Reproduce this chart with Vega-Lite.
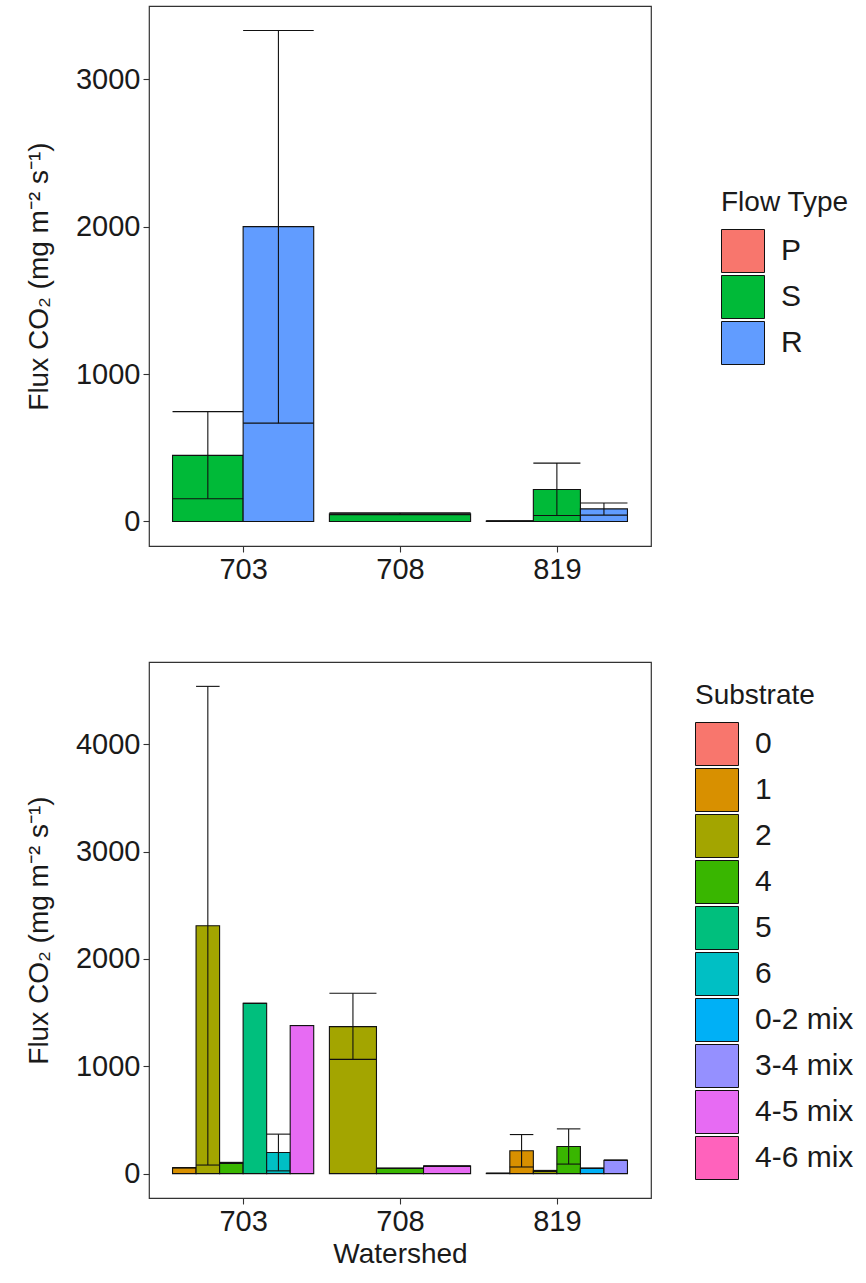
{
  "$schema": "https://vega.github.io/schema/vega-lite/v6.json",
  "padding": {"left": 24, "top": 5, "right": 0, "bottom": 0},
  "background": "white",
  "config": {
    "font": "Liberation Sans",
    "view": {"stroke": "#333333", "strokeWidth": 1.2},
    "axis": {"grid": false, "domain": false, "tickColor": "#333333", "tickSize": 6, "tickWidth": 1.1, "labelColor": "#1a1a1a", "labelFontSize": 29, "labelFont": "Liberation Sans", "titleFont": "Liberation Sans", "titleFontWeight": "normal", "titleFontSize": 28, "titleColor": "#1a1a1a", "labelPadding": 3, "format": "d"},
    "legend": {"symbolType": "square", "symbolSize": 1849, "symbolStrokeColor": "#111111", "symbolStrokeWidth": 1, "symbolOpacity": 1, "labelFontSize": 30, "labelColor": "#1a1a1a", "titleFontSize": 28, "titleFontWeight": "normal", "titleColor": "#1a1a1a", "labelOffset": 16, "titlePadding": 12, "rowPadding": -2}
  },
  "datasets": {
    "flow": [
      {"Watershed": "703", "FlowType": "S", "mean": 448, "lower": 154, "upper": 745},
      {"Watershed": "703", "FlowType": "R", "mean": 2000, "lower": 667, "upper": 3330},
      {"Watershed": "708", "FlowType": "S", "mean": 52, "lower": 46, "upper": 58},
      {"Watershed": "819", "FlowType": "P", "mean": 3, "lower": 1, "upper": 5},
      {"Watershed": "819", "FlowType": "S", "mean": 217, "lower": 40, "upper": 396},
      {"Watershed": "819", "FlowType": "R", "mean": 85, "lower": 43, "upper": 125}
    ],
    "substrate": [
      {"Watershed": "703", "Substrate": "1", "mean": 55, "lower": 55, "upper": 55},
      {"Watershed": "703", "Substrate": "2", "mean": 2310, "lower": 80, "upper": 4540},
      {"Watershed": "703", "Substrate": "4", "mean": 100, "lower": 95, "upper": 105},
      {"Watershed": "703", "Substrate": "5", "mean": 1586, "lower": 1586, "upper": 1586},
      {"Watershed": "703", "Substrate": "6", "mean": 197, "lower": 26, "upper": 368},
      {"Watershed": "703", "Substrate": "4-5 mix", "mean": 1380, "lower": 1380, "upper": 1380},
      {"Watershed": "708", "Substrate": "2", "mean": 1370, "lower": 1065, "upper": 1680},
      {"Watershed": "708", "Substrate": "4", "mean": 50, "lower": 50, "upper": 50},
      {"Watershed": "708", "Substrate": "4-5 mix", "mean": 70, "lower": 70, "upper": 70},
      {"Watershed": "819", "Substrate": "0", "mean": 3, "lower": 3, "upper": 3},
      {"Watershed": "819", "Substrate": "1", "mean": 213, "lower": 62, "upper": 364},
      {"Watershed": "819", "Substrate": "2", "mean": 25, "lower": 20, "upper": 30},
      {"Watershed": "819", "Substrate": "4", "mean": 253, "lower": 89, "upper": 417},
      {"Watershed": "819", "Substrate": "0-2 mix", "mean": 50, "lower": 50, "upper": 50},
      {"Watershed": "819", "Substrate": "3-4 mix", "mean": 125, "lower": 125, "upper": 125}
    ]
  },
  "vconcat": [
    {
      "width": 502,
      "height": 540,
      "data": {"name": "flow"},
      "transform": [
        {"calculate": "indexof(['P','S','R'], datum.FlowType)", "as": "lvl"},
        {"joinaggregate": [{"op": "count", "as": "n"}], "groupby": ["Watershed"]},
        {"window": [{"op": "row_number", "as": "r"}], "groupby": ["Watershed"], "sort": [{"field": "lvl", "order": "ascending"}]},
        {"calculate": "indexof(['703','708','819'], datum.Watershed) + 1 - 0.45 + (datum.r - 1) * 0.9 / datum.n", "as": "x0"},
        {"calculate": "datum.x0 + 0.9 / datum.n", "as": "x1"},
        {"calculate": "(datum.x0 + datum.x1) / 2", "as": "xc"}
      ],
      "encoding": {
        "x": {"field": "x0", "type": "quantitative", "scale": {"domain": [0.4, 3.6], "nice": false, "zero": false}, "axis": {"title": null, "values": [1, 2, 3], "labelExpr": "datum.value == 1 ? '703' : datum.value == 2 ? '708' : '819'"}}
      },
      "layer": [
        {
          "mark": {"type": "rect", "stroke": "#111111", "strokeWidth": 1.1},
          "encoding": {
            "x2": {"field": "x1"},
            "y": {"field": "mean", "type": "quantitative", "scale": {"domain": [-166.5, 3496.5], "nice": false, "zero": false}, "axis": {"values": [0, 1000, 2000, 3000], "title": "Flux CO₂ (mg m⁻² s⁻¹)", "titlePadding": 22}},
            "y2": {"datum": 0},
            "fill": {"field": "FlowType", "type": "nominal", "scale": {"domain": ["P", "S", "R"], "range": ["#F8766D", "#00BA38", "#619CFF"]}, "legend": {"title": "Flow Type", "orient": "none", "legendX": 572, "legendY": 183}}
          }
        },
        {
          "mark": {"type": "rule", "color": "#111111", "strokeWidth": 1.1},
          "encoding": {"x": {"field": "xc", "type": "quantitative"}, "y": {"field": "lower", "type": "quantitative"}, "y2": {"field": "upper"}}
        },
        {
          "mark": {"type": "rule", "color": "#111111", "strokeWidth": 1.1},
          "encoding": {"x2": {"field": "x1"}, "y": {"field": "upper", "type": "quantitative"}}
        },
        {
          "mark": {"type": "rule", "color": "#111111", "strokeWidth": 1.1},
          "encoding": {"x2": {"field": "x1"}, "y": {"field": "lower", "type": "quantitative"}}
        }
      ]
    },
    {
      "width": 502,
      "height": 536,
      "data": {"name": "substrate"},
      "transform": [
        {"calculate": "indexof(['0','1','2','4','5','6','0-2 mix','3-4 mix','4-5 mix','4-6 mix'], datum.Substrate)", "as": "lvl"},
        {"joinaggregate": [{"op": "count", "as": "n"}], "groupby": ["Watershed"]},
        {"window": [{"op": "row_number", "as": "r"}], "groupby": ["Watershed"], "sort": [{"field": "lvl", "order": "ascending"}]},
        {"calculate": "indexof(['703','708','819'], datum.Watershed) + 1 - 0.45 + (datum.r - 1) * 0.9 / datum.n", "as": "x0"},
        {"calculate": "datum.x0 + 0.9 / datum.n", "as": "x1"},
        {"calculate": "(datum.x0 + datum.x1) / 2", "as": "xc"}
      ],
      "encoding": {
        "x": {"field": "x0", "type": "quantitative", "scale": {"domain": [0.4, 3.6], "nice": false, "zero": false}, "axis": {"title": "Watershed", "titlePadding": 4, "values": [1, 2, 3], "labelExpr": "datum.value == 1 ? '703' : datum.value == 2 ? '708' : '819'"}}
      },
      "layer": [
        {
          "mark": {"type": "rect", "stroke": "#111111", "strokeWidth": 1.1},
          "encoding": {
            "x2": {"field": "x1"},
            "y": {"field": "mean", "type": "quantitative", "scale": {"domain": [-227, 4767], "nice": false, "zero": false}, "axis": {"values": [0, 1000, 2000, 3000, 4000], "title": "Flux CO₂ (mg m⁻² s⁻¹)", "titlePadding": 22}},
            "y2": {"datum": 0},
            "fill": {"field": "Substrate", "type": "nominal", "scale": {"domain": ["0", "1", "2", "4", "5", "6", "0-2 mix", "3-4 mix", "4-5 mix", "4-6 mix"], "range": ["#F8766D", "#D89000", "#A3A500", "#39B600", "#00BF7D", "#00BFC4", "#00B0F6", "#9590FF", "#E76BF3", "#FF62BC"]}, "legend": {"title": "Substrate", "orient": "none", "legendX": 546, "legendY": 20}}
          }
        },
        {
          "mark": {"type": "rule", "color": "#111111", "strokeWidth": 1.1},
          "encoding": {"x": {"field": "xc", "type": "quantitative"}, "y": {"field": "lower", "type": "quantitative"}, "y2": {"field": "upper"}}
        },
        {
          "mark": {"type": "rule", "color": "#111111", "strokeWidth": 1.1},
          "encoding": {"x2": {"field": "x1"}, "y": {"field": "upper", "type": "quantitative"}}
        },
        {
          "mark": {"type": "rule", "color": "#111111", "strokeWidth": 1.1},
          "encoding": {"x2": {"field": "x1"}, "y": {"field": "lower", "type": "quantitative"}}
        }
      ]
    }
  ],
  "spacing": 76,
  "resolve": {"scale": {"fill": "independent"}, "legend": {"fill": "independent"}}
}
